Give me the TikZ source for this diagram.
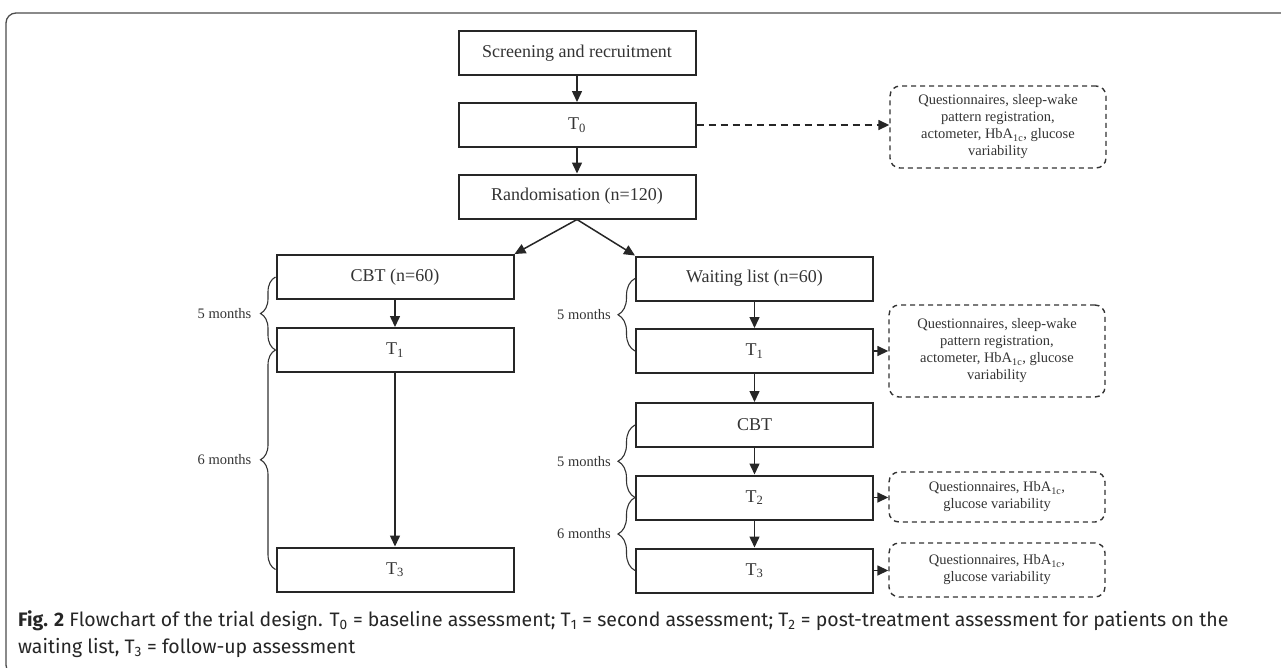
\documentclass[tikz,border=0pt]{standalone}
\usepackage{fontspec}
\setmainfont{Liberation Serif}
\newfontfamily\capfont{Fira Sans}
\usetikzlibrary{arrows.meta,decorations.pathreplacing,calc}
\tikzset{
  box/.style={draw=black!85, line width=2pt, minimum width=237pt, minimum height=44pt, inner sep=0pt,
    font=\fontsize{18}{21}\selectfont, text=black!80},
  dbox/.style={draw=black!80, dash pattern=on 5pt off 4pt, line width=1.4pt, rounded corners=10pt,
    minimum width=216pt, inner sep=0pt, align=center, font=\fontsize{14.5}{17}\selectfont, text=black!80},
  arr/.style={-{Triangle[length=11pt,width=10pt]}, line width=1.5pt, draw=black!85},
  darr/.style={arr, dash pattern=on 7pt off 5pt},
  brc/.style={decorate, line width=1.1pt, draw=black!80},
  months/.style={anchor=east, font=\fontsize{14.5}{17}\selectfont, text=black!80, inner sep=0pt},
  captxt/.style={anchor=base west, inner sep=0pt, font=\capfont\fontsize{19.5}{23}\selectfont, text=black!85},
}
\begin{document}
\begin{tikzpicture}[x=1pt,y=-1pt]
\useasboundingbox (0,0) rectangle (1281,667);
\begin{scope}
\clip (0,0) rectangle (1281,667);
\draw[line width=1.3pt, black!70, rounded corners=10pt] (6,13) rectangle (1295,675);
\end{scope}
% main column
\node[box] (scr) at (577,53) {Screening and recruitment};
\node[box] (t0) at (577,125) {T\textsubscript{0}};
\node[box] (rand) at (577,196.5) {Randomisation (n=120)};
% left column
\node[box] (cbt) at (395,277) {CBT (n=60)};
\node[box] (lt1) at (395,350) {T\textsubscript{1}};
\node[box] (lt3) at (395,569.5) {T\textsubscript{3}};
% right column
\node[box] (wl) at (754.5,278.5) {Waiting list (n=60)};
\node[box] (rt1) at (754.5,351) {T\textsubscript{1}};
\node[box] (rcbt) at (754.5,425) {CBT};
\node[box] (rt2) at (754.5,497.5) {T\textsubscript{2}};
\node[box] (rt3) at (754.5,570.5) {T\textsubscript{3}};
% dashed boxes
\node[dbox, minimum height=82pt] (d0) at (998,127) {Questionnaires, sleep-wake\\pattern registration,\\actometer, HbA\textsubscript{1c}, glucose\\variability};
\node[dbox, minimum height=92pt] (d1) at (997,351) {Questionnaires, sleep-wake\\pattern registration,\\actometer, HbA\textsubscript{1c}, glucose\\variability};
\node[dbox, minimum height=50pt] (d2) at (997,497) {Questionnaires, HbA\textsubscript{1c},\\glucose variability};
\node[dbox, minimum height=54pt] (d3) at (997,570) {Questionnaires, HbA\textsubscript{1c},\\glucose variability};
% arrows
\draw[arr] (scr) -- (t0);
\draw[arr] (t0) -- (rand);
\draw[arr] (rand.south) -- (cbt.north east);
\draw[arr] (rand.south) -- (wl.north west);
\draw[arr] (cbt) -- (lt1);
\draw[arr] (lt1) -- (lt3);
\draw[arr] (wl) -- (rt1);
\draw[arr] (rt1) -- (rcbt);
\draw[arr] (rcbt) -- (rt2);
\draw[arr] (rt2) -- (rt3);
\draw[darr] (t0.east) -- (t0.east -| d0.west);
\draw[arr] (rt1.east) -- (rt1.east -| d1.west);
\draw[arr] (rt2.east) -- (rt2.east -| d2.west);
\draw[arr] (rt3.east) -- (rt3.east -| d3.west);
% braces
\draw[brc, decoration={brace, amplitude=15pt}] (lt1.west) -- (cbt.west);
\draw[brc, decoration={brace, amplitude=15pt}] (lt3.west) -- (lt1.west);
\draw[brc, decoration={brace, amplitude=17pt}] (rt1.west) -- (wl.west);
\draw[brc, decoration={brace, amplitude=17pt}] (rt2.west) -- (rcbt.west);
\draw[brc, decoration={brace, amplitude=17pt}] (rt3.west) -- (rt2.west);
\node[months] (m1) at ($(cbt.west)!0.5!(lt1.west)+(-24,0)$) {5 months};
\node[months] (m2) at ($(lt1.west)!0.5!(lt3.west)+(-24,0)$) {6 months};
\node[months] (m3) at ($(wl.west)!0.5!(rt1.west)+(-24,0)$) {5 months};
\node[months] (m4) at ($(rcbt.west)!0.5!(rt2.west)+(-24,0)$) {5 months};
\node[months] (m5) at ($(rt2.west)!0.5!(rt3.west)+(-24,0)$) {6 months};
% caption
\node[captxt] (cap1) at (18,626)
  {\textbf{Fig. 2} Flowchart of the trial design. T\textsubscript{0} = baseline assessment; T\textsubscript{1} = second assessment; T\textsubscript{2} = post-treatment assessment for patients on the};
\node[captxt] (cap2) at (18,653)
  {waiting list, T\textsubscript{3} = follow-up assessment};
\end{tikzpicture}
\end{document}
